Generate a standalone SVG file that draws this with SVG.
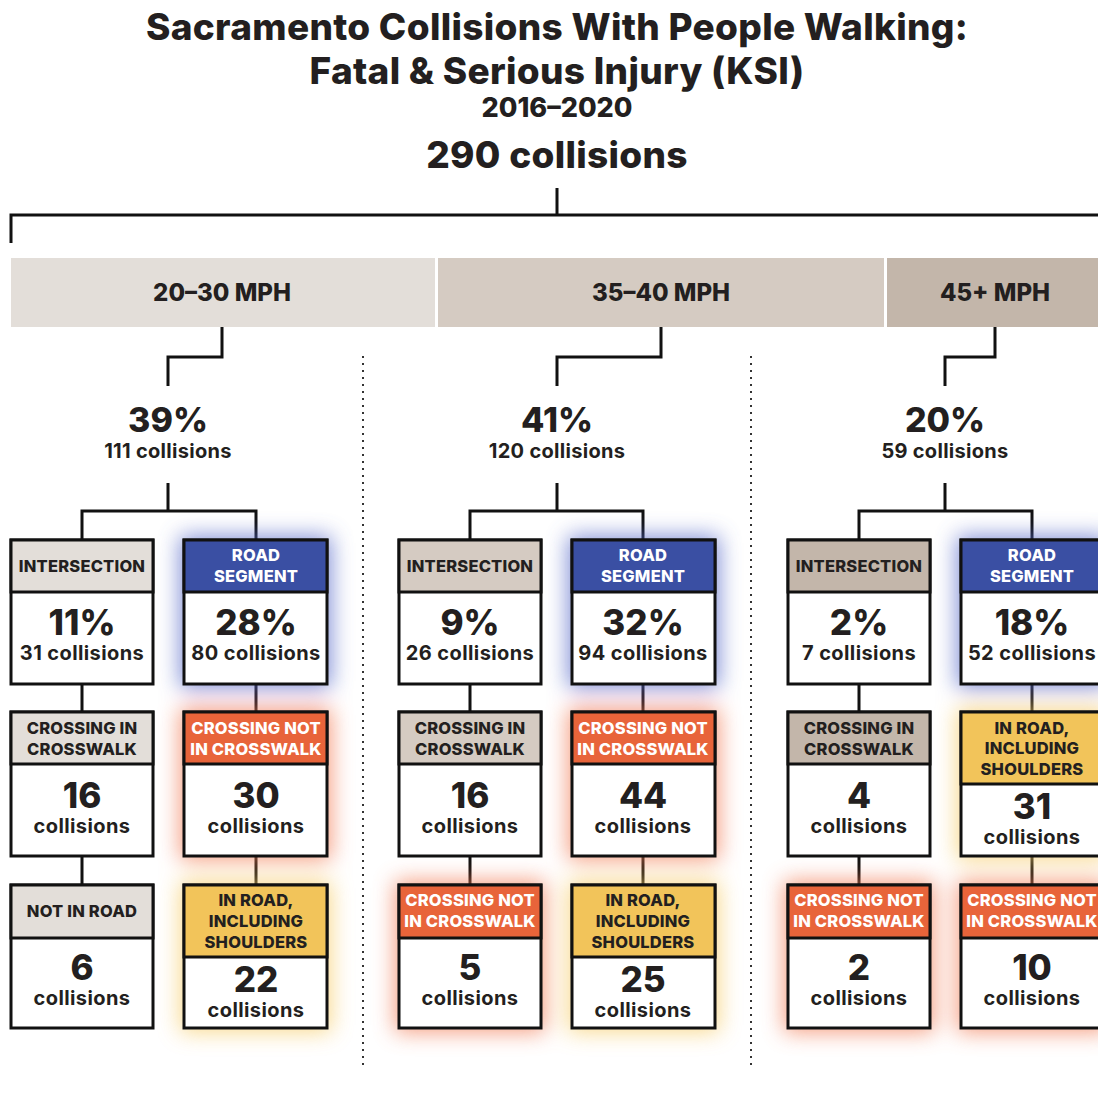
<svg xmlns="http://www.w3.org/2000/svg" width="1098" height="1093" viewBox="0 0 1098 1093">
<style>
text{font-family:Inter,"Liberation Sans",sans-serif;fill:#231f20;text-anchor:middle;font-weight:700}
.t1{font-size:37px;font-weight:800;letter-spacing:0.3px}
.t2{font-size:27px;font-weight:800}
.band{font-size:24px;font-weight:800}
.pct{font-size:34px;font-weight:800}
.sub{font-size:20px;letter-spacing:0.3px}
.hd{font-size:16.5px;font-weight:800;letter-spacing:0.2px}
.hw{font-size:16.5px;font-weight:800;letter-spacing:0.2px;fill:#fff}
.big{font-size:35px;font-weight:800}
.col{font-size:20px;letter-spacing:0.4px}
.box{fill:#fff;stroke:#111;stroke-width:3}
.hdr{stroke:#111;stroke-width:3}
.ln{stroke:#111;stroke-width:3;fill:none}
.dot{stroke:#333;stroke-width:2;stroke-dasharray:2 5;fill:none}
.gb{fill:#5468c8}.gr{fill:#f27a52}.gy{fill:#f7cc66}
</style>
<defs>
<filter id="glow" x="-50%" y="-50%" width="200%" height="200%"><feGaussianBlur stdDeviation="11"/></filter>
</defs>
<rect width="1098" height="1093" fill="#fff"/>
<g id="title">
<text class="t1" x="557" y="40">Sacramento Collisions With People Walking:</text>
<text class="t1" x="557" y="84">Fatal &amp; Serious Injury (KSI)</text>
<text class="t2" x="557" y="117">2016–2020</text>
<text class="t1" x="557" y="168">290 collisions</text>
</g>
<g id="connectors">
<path class="ln" d="M557 188V215M11 243V215H1098"/>
<path class="ln" d="M222 327V357H168V386M661 327V357H557V386M995 327V357H945V386"/>
<path class="ln" d="M168 483V511M82 540V511H256V540M557 483V511M470 540V511H643V540M945 483V511M859 540V511H1032V540"/>
<path class="ln" d="M82 684V712M256 684V712M470 684V712M643 684V712M859 684V712M1032 684V712"/>
<path class="ln" d="M82 856V885M256 856V885M470 856V885M643 856V885M859 856V885M1032 856V885"/>
<path class="dot" d="M363 356V1070M751 356V1070"/>
</g>
<g id="band-20-30"><rect x="11" y="258" width="424" height="69" fill="#e3ded9"/><text class="band" x="222" y="301">20–30 MPH</text></g>
<g id="band-35-40"><rect x="438" y="258" width="446" height="69" fill="#d5cbc2"/><text class="band" x="661" y="301">35–40 MPH</text></g>
<g id="band-45"><rect x="887" y="258" width="211" height="69" fill="#c3b6aa"/><text class="band" x="995" y="301">45+ MPH</text></g>
<g id="pct-39"><text class="pct" x="168" y="432">39%</text><text class="sub" x="168" y="458">111 collisions</text></g>
<g id="pct-41"><text class="pct" x="557" y="432">41%</text><text class="sub" x="557" y="458">120 collisions</text></g>
<g id="pct-20"><text class="pct" x="945" y="432">20%</text><text class="sub" x="945" y="458">59 collisions</text></g>

<g id="glows" filter="url(#glow)" opacity="0.75">
<rect class="gb" x="180" y="536" width="151" height="152"/>
<rect class="gb" x="568" y="536" width="151" height="152"/>
<rect class="gb" x="957" y="536" width="151" height="152"/>
<rect class="gr" x="180" y="708" width="151" height="152"/>
<rect class="gr" x="568" y="708" width="151" height="152"/>
<rect class="gr" x="395" y="881" width="150" height="151"/>
<rect class="gr" x="784" y="881" width="150" height="151"/>
<rect class="gr" x="957" y="881" width="151" height="151"/>
<rect class="gy" x="180" y="881" width="151" height="151"/>
<rect class="gy" x="568" y="881" width="151" height="151"/>
<rect class="gy" x="957" y="708" width="151" height="152"/>
</g>

<g id="c1-intersection"><rect class="box" x="11" y="540" width="142" height="144"/><rect class="hdr" x="11" y="540" width="142" height="52" fill="#e3ded9"/><text class="hd" x="82" y="572">INTERSECTION</text><text class="big" x="82" y="635">11%</text><text class="col" x="82" y="660">31 collisions</text></g>
<g id="c1-road"><rect class="box" x="184" y="540" width="143" height="144"/><rect class="hdr" x="184" y="540" width="143" height="52" fill="#3a4fa3"/><text class="hw" x="256" y="561">ROAD</text><text class="hw" x="256" y="582">SEGMENT</text><text class="big" x="256" y="635">28%</text><text class="col" x="256" y="660">80 collisions</text></g>
<g id="c1-crossin"><rect class="box" x="11" y="712" width="142" height="144"/><rect class="hdr" x="11" y="712" width="142" height="52" fill="#e3ded9"/><text class="hd" x="82" y="734">CROSSING IN</text><text class="hd" x="82" y="755">CROSSWALK</text><text class="big" x="82" y="808">16</text><text class="col" x="82" y="833">collisions</text></g>
<g id="c1-crossnot"><rect class="box" x="184" y="712" width="143" height="144"/><rect class="hdr" x="184" y="712" width="143" height="52" fill="#e8643a"/><text class="hw" x="256" y="734">CROSSING NOT</text><text class="hw" x="256" y="755">IN CROSSWALK</text><text class="big" x="256" y="808">30</text><text class="col" x="256" y="833">collisions</text></g>
<g id="c1-notinroad"><rect class="box" x="11" y="885" width="142" height="143"/><rect class="hdr" x="11" y="885" width="142" height="53" fill="#e3ded9"/><text class="hd" x="82" y="917">NOT IN ROAD</text><text class="big" x="82" y="980">6</text><text class="col" x="82" y="1005">collisions</text></g>
<g id="c1-inroad"><rect class="box" x="184" y="885" width="143" height="143"/><rect class="hdr" x="184" y="885" width="143" height="72" fill="#f2c45a"/><text class="hd" x="256" y="906">IN ROAD,</text><text class="hd" x="256" y="927">INCLUDING</text><text class="hd" x="256" y="948">SHOULDERS</text><text class="big" x="256" y="992">22</text><text class="col" x="256" y="1017">collisions</text></g>

<g id="c2-intersection"><rect class="box" x="399" y="540" width="142" height="144"/><rect class="hdr" x="399" y="540" width="142" height="52" fill="#d5cbc2"/><text class="hd" x="470" y="572">INTERSECTION</text><text class="big" x="470" y="635">9%</text><text class="col" x="470" y="660">26 collisions</text></g>
<g id="c2-road"><rect class="box" x="572" y="540" width="143" height="144"/><rect class="hdr" x="572" y="540" width="143" height="52" fill="#3a4fa3"/><text class="hw" x="643" y="561">ROAD</text><text class="hw" x="643" y="582">SEGMENT</text><text class="big" x="643" y="635">32%</text><text class="col" x="643" y="660">94 collisions</text></g>
<g id="c2-crossin"><rect class="box" x="399" y="712" width="142" height="144"/><rect class="hdr" x="399" y="712" width="142" height="52" fill="#d5cbc2"/><text class="hd" x="470" y="734">CROSSING IN</text><text class="hd" x="470" y="755">CROSSWALK</text><text class="big" x="470" y="808">16</text><text class="col" x="470" y="833">collisions</text></g>
<g id="c2-crossnot"><rect class="box" x="572" y="712" width="143" height="144"/><rect class="hdr" x="572" y="712" width="143" height="52" fill="#e8643a"/><text class="hw" x="643" y="734">CROSSING NOT</text><text class="hw" x="643" y="755">IN CROSSWALK</text><text class="big" x="643" y="808">44</text><text class="col" x="643" y="833">collisions</text></g>
<g id="c2-crossnot2"><rect class="box" x="399" y="885" width="142" height="143"/><rect class="hdr" x="399" y="885" width="142" height="53" fill="#e8643a"/><text class="hw" x="470" y="906">CROSSING NOT</text><text class="hw" x="470" y="927">IN CROSSWALK</text><text class="big" x="470" y="980">5</text><text class="col" x="470" y="1005">collisions</text></g>
<g id="c2-inroad"><rect class="box" x="572" y="885" width="143" height="143"/><rect class="hdr" x="572" y="885" width="143" height="72" fill="#f2c45a"/><text class="hd" x="643" y="906">IN ROAD,</text><text class="hd" x="643" y="927">INCLUDING</text><text class="hd" x="643" y="948">SHOULDERS</text><text class="big" x="643" y="992">25</text><text class="col" x="643" y="1017">collisions</text></g>

<g id="c3-intersection"><rect class="box" x="788" y="540" width="142" height="144"/><rect class="hdr" x="788" y="540" width="142" height="52" fill="#c3b6aa"/><text class="hd" x="859" y="572">INTERSECTION</text><text class="big" x="859" y="635">2%</text><text class="col" x="859" y="660">7 collisions</text></g>
<g id="c3-road"><rect class="box" x="961" y="540" width="143" height="144"/><rect class="hdr" x="961" y="540" width="143" height="52" fill="#3a4fa3"/><text class="hw" x="1032" y="561">ROAD</text><text class="hw" x="1032" y="582">SEGMENT</text><text class="big" x="1032" y="635">18%</text><text class="col" x="1032" y="660">52 collisions</text></g>
<g id="c3-crossin"><rect class="box" x="788" y="712" width="142" height="144"/><rect class="hdr" x="788" y="712" width="142" height="52" fill="#c3b6aa"/><text class="hd" x="859" y="734">CROSSING IN</text><text class="hd" x="859" y="755">CROSSWALK</text><text class="big" x="859" y="808">4</text><text class="col" x="859" y="833">collisions</text></g>
<g id="c3-inroad"><rect class="box" x="961" y="712" width="143" height="144"/><rect class="hdr" x="961" y="712" width="143" height="72" fill="#f2c45a"/><text class="hd" x="1032" y="734">IN ROAD,</text><text class="hd" x="1032" y="754">INCLUDING</text><text class="hd" x="1032" y="775">SHOULDERS</text><text class="big" x="1032" y="819">31</text><text class="col" x="1032" y="844">collisions</text></g>
<g id="c3-crossnot"><rect class="box" x="788" y="885" width="142" height="143"/><rect class="hdr" x="788" y="885" width="142" height="53" fill="#e8643a"/><text class="hw" x="859" y="906">CROSSING NOT</text><text class="hw" x="859" y="927">IN CROSSWALK</text><text class="big" x="859" y="980">2</text><text class="col" x="859" y="1005">collisions</text></g>
<g id="c3-crossnot2"><rect class="box" x="961" y="885" width="143" height="143"/><rect class="hdr" x="961" y="885" width="143" height="53" fill="#e8643a"/><text class="hw" x="1032" y="906">CROSSING NOT</text><text class="hw" x="1032" y="927">IN CROSSWALK</text><text class="big" x="1032" y="980">10</text><text class="col" x="1032" y="1005">collisions</text></g>
</svg>
